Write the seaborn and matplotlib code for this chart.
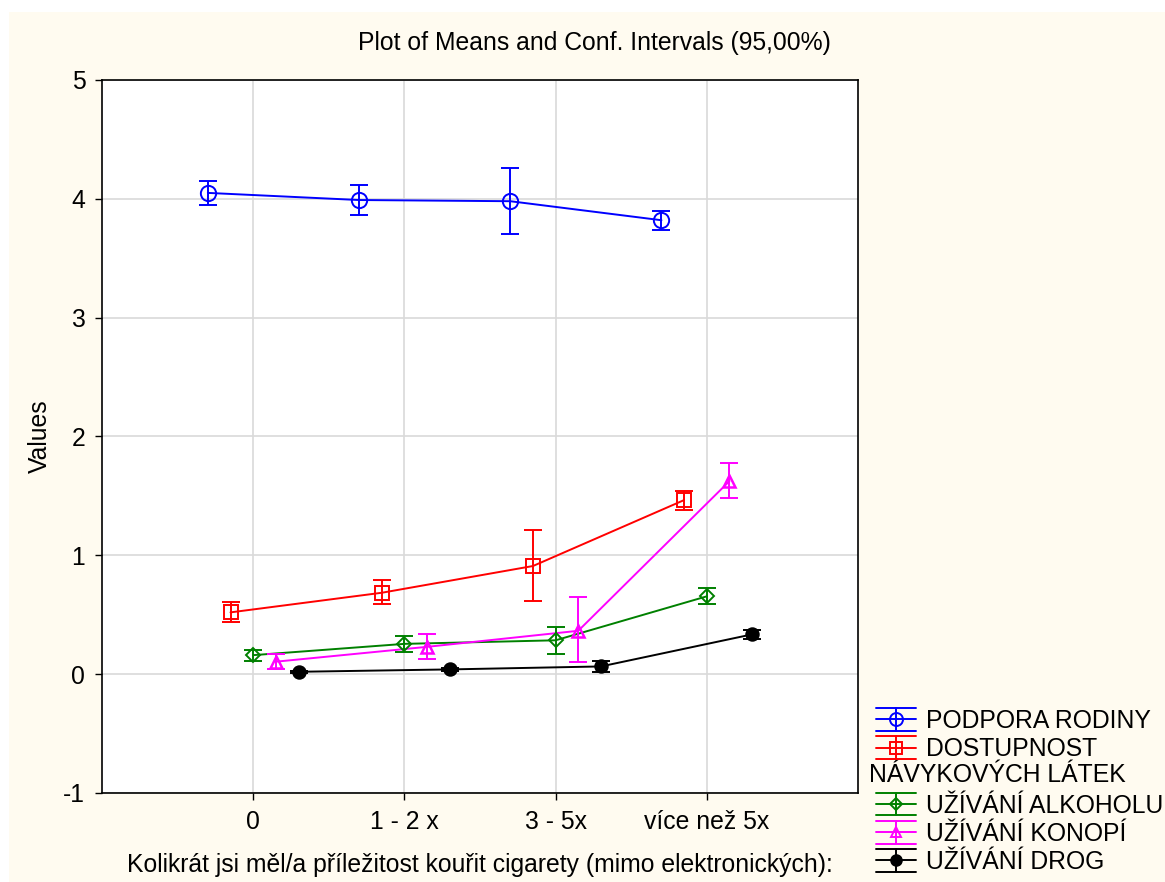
import numpy as np
import pandas as pd
import matplotlib
matplotlib.use("Agg")
import matplotlib.pyplot as plt
from matplotlib.lines import Line2D
from matplotlib.patches import Rectangle
from matplotlib.legend_handler import HandlerBase
import seaborn as sns

# data
categories = ["0", "1 - 2 x", "3 - 5x", "více než 5x"]
series_names = ["PODPORA RODINY", "DOSTUPNOST NÁVYKOVÝCH LÁTEK",
                "UŽÍVÁNÍ ALKOHOLU", "UŽÍVÁNÍ KONOPÍ", "UŽÍVÁNÍ DROG"]

podpora_mean = [4.05, 3.99, 3.98, 3.82]
podpora_lo = [3.95, 3.86, 3.70, 3.74]
podpora_hi = [4.15, 4.12, 4.26, 3.90]

dostupnost_mean = [0.52, 0.685, 0.91, 1.465]
dostupnost_lo = [0.435, 0.59, 0.615, 1.385]
dostupnost_hi = [0.605, 0.79, 1.21, 1.545]

alkohol_mean = [0.16, 0.255, 0.285, 0.655]
alkohol_lo = [0.115, 0.19, 0.17, 0.59]
alkohol_hi = [0.205, 0.32, 0.40, 0.725]

konopi_mean = [0.105, 0.23, 0.365, 1.625]
konopi_lo = [0.045, 0.13, 0.10, 1.48]
konopi_hi = [0.17, 0.34, 0.65, 1.775]

drogy_mean = [0.02, 0.04, 0.065, 0.335]
drogy_lo = [0.01, 0.025, 0.02, 0.30]
drogy_hi = [0.03, 0.055, 0.11, 0.37]

means = [podpora_mean, dostupnost_mean, alkohol_mean, konopi_mean, drogy_mean]
los = [podpora_lo, dostupnost_lo, alkohol_lo, konopi_lo, drogy_lo]
his = [podpora_hi, dostupnost_hi, alkohol_hi, konopi_hi, drogy_hi]

# styling
colors = ["#0000FF", "#FF0000", "#008000", "#FF00FF", "#000000"]
markers = ["o", "s", "D", "^", "o"]
msizes = [11, 10, 7.5, 9, 9]
filled = [False, False, False, False, True]
offsets = [-0.30, -0.15, 0.0, 0.15, 0.30]
FS = 17.8

rows = []
for name, m, lo, hi, off in zip(series_names, means, los, his, offsets):
    for i, cat in enumerate(categories):
        rows.append({"series": name, "cat": cat, "xpos": i + off,
                     "mean": m[i], "lo": lo[i], "hi": hi[i]})
df = pd.DataFrame(rows)

sns.set_theme(style="white")
plt.rcParams["font.family"] = ["Liberation Sans", "DejaVu Sans"]
plt.rcParams["axes.unicode_minus"] = False

fig = plt.figure(figsize=(11.65, 8.82), dpi=100)
fig.patch.set_facecolor("white")
fig.patches.append(Rectangle((9 / 1165, 0), 1, 1 - 12 / 882, transform=fig.transFigure,
                             facecolor="#FFFBF0", edgecolor="none", zorder=-10))
ax = fig.add_axes([102 / 1165, 1 - 793 / 882, (858 - 102) / 1165, (793 - 80) / 882])
ax.set_facecolor("white")

for k, name in enumerate(series_names):
    d = df[df["series"] == name]
    c = colors[k]
    sns.lineplot(data=d, x="xpos", y="mean", ax=ax, color=c, lw=1.4,
                 estimator=None, sort=False, zorder=3)
    yerr = np.vstack([d["mean"] - d["lo"], d["hi"] - d["mean"]])
    ax.errorbar(d["xpos"], d["mean"], yerr=yerr, fmt="none", ecolor=c,
                elinewidth=1.4, capsize=6.5, capthick=1.4, zorder=4)
    ax.plot(d["xpos"], d["mean"], linestyle="none", marker=markers[k],
            markersize=msizes[k], markeredgecolor=c,
            markerfacecolor=c if filled[k] else "none",
            markeredgewidth=1.8 if k == 3 else 1.4, zorder=5)

ax.set_xlim(-1, 4)
ax.set_ylim(-1, 5)
ax.set_xticks(range(len(categories)))
ax.set_xticklabels(categories)
ax.set_yticks(range(-1, 6))
ax.grid(True, color="#D9D9D9", lw=1.2)
ax.set_axisbelow(True)
for s in ax.spines.values():
    s.set_color("black")
    s.set_linewidth(1.2)
ax.tick_params(axis="both", which="both", direction="out", length=5, width=1,
               color="black", labelsize=FS, labelcolor="black",
               left=True, bottom=True, pad=7)
ax.set_xlabel("Kolikrát jsi měl/a příležitost kouřit cigarety (mimo elektronických):",
              fontsize=FS, color="black", labelpad=14)
ax.set_ylabel("Values", fontsize=FS, color="black", labelpad=8)
fig.text(594 / 1165, 1 - 43 / 882, "Plot of Means and Conf. Intervals (95,00%)",
         ha="center", va="center", fontsize=FS, color="black")


class ErrHandler(HandlerBase):
    def create_artists(self, legend, orig_handle, xdescent, ydescent, width,
                       height, fontsize, trans):
        if orig_handle.get_gid() == "blank":
            a = Line2D([], [], color="none")
            a.set_transform(trans)
            return [a]
        c = orig_handle.get_color()
        x0, x1 = -xdescent, -xdescent + width
        yc = -ydescent + height / 2
        xc = (x0 + x1) / 2
        dy = 0.55 * height
        arts = []
        for yy in (yc - dy, yc, yc + dy):
            arts.append(Line2D([x0, x1], [yy, yy], color=c, lw=1.4))
        arts.append(Line2D([xc, xc], [yc - dy, yc + dy], color=c, lw=1.4))
        arts.append(Line2D([xc], [yc], marker=orig_handle.get_marker(),
                           markersize=orig_handle.get_markersize(),
                           markeredgecolor=c,
                           markerfacecolor=orig_handle.get_markerfacecolor(),
                           markeredgewidth=1.4, linestyle="none"))
        for a in arts:
            a.set_transform(trans)
        return arts


handles, labels = [], []
leg_labels = ["PODPORA RODINY", "DOSTUPNOST", " ", "UŽÍVÁNÍ ALKOHOLU",
              "UŽÍVÁNÍ KONOPÍ", "UŽÍVÁNÍ DROG"]
style_idx = [0, 1, None, 2, 3, 4]
for lab, k in zip(leg_labels, style_idx):
    if k is None:
        h = Line2D([], [], color="none")
        h.set_gid("blank")
    else:
        h = Line2D([], [], color=colors[k], marker=markers[k],
                   markersize=msizes[k] * 0.85,
                   markerfacecolor=colors[k] if filled[k] else "none")
    handles.append(h)
    labels.append(lab)

leg = fig.legend(handles, labels, handler_map={Line2D: ErrHandler()},
                 loc="lower left", bbox_to_anchor=(876 / 1165, 8 / 882),
                 frameon=False, fontsize=FS, handlelength=1.62, handleheight=0.9,
                 handletextpad=0.4, labelspacing=0.17, borderpad=0, borderaxespad=0,
                 labelcolor="black")
fig.text(869 / 1165, 1 - 775 / 882, "NÁVYKOVÝCH LÁTEK", ha="left", va="center",
         fontsize=FS, color="black")

fig.savefig("out.png", dpi=100)
